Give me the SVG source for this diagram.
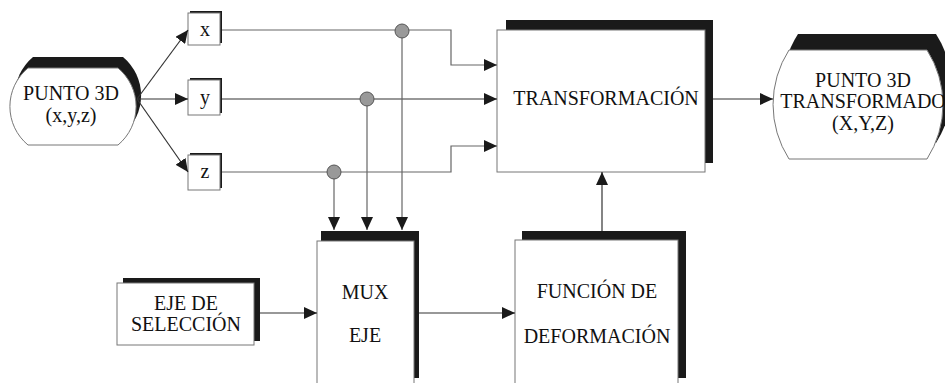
<svg xmlns="http://www.w3.org/2000/svg" width="945" height="383" viewBox="0 0 945 383">
<style>
.sh{fill:#1a1a1a;stroke:none}
.bx{fill:#fff;stroke:#777;stroke-width:1}
.t{font-family:"Liberation Serif","Times New Roman",serif;font-size:20px;fill:#111;text-anchor:middle}
.c{fill:none;stroke:#333;stroke-width:1.2}
.g{fill:none;stroke:#666;stroke-width:1.2}
.dot{fill:#999;stroke:#555;stroke-width:1}
</style>
<defs>
<marker id="ah" markerUnits="userSpaceOnUse" markerWidth="14" markerHeight="12" refX="13" refY="6" orient="auto">
<path d="M0,0 L13,6 L0,12 Z" fill="#1a1a1a"/>
</marker>
</defs>
<rect width="945" height="383" fill="#fff"/>

<g id="punto3d">
<path class="sh" transform="translate(5,-11)" d="M28,68 L118,68 A50,50 0 0 1 118,145 L28,145 A50,50 0 0 1 28,68 Z"/>
<path class="bx" d="M28,68 L118,68 A50,50 0 0 1 118,145 L28,145 A50,50 0 0 1 28,68 Z"/>
<text class="t" x="71" y="100">PUNTO 3D</text>
<text class="t" x="71" y="122">(x,y,z)</text>
</g>

<g id="box-x">
<rect class="sh" x="190" y="11" width="32" height="32"/>
<rect class="bx" x="188" y="13" width="32" height="32"/>
<text class="t" x="205" y="36">x</text>
</g>
<g id="box-y">
<rect class="sh" x="190" y="78" width="32" height="35"/>
<rect class="bx" x="188" y="80" width="32" height="35"/>
<text class="t" x="205" y="104">y</text>
</g>
<g id="box-z">
<rect class="sh" x="190" y="153" width="32" height="35"/>
<rect class="bx" x="188" y="155" width="32" height="35"/>
<text class="t" x="205" y="178">z</text>
</g>

<g id="transformacion">
<rect class="sh" x="506" y="20" width="207" height="143"/>
<rect class="bx" x="497" y="30" width="208" height="142"/>
<text class="t" x="606" y="105">TRANSFORMACIÓN</text>
</g>

<g id="punto3d-transformado">
<path class="sh" transform="translate(9,-16)" d="M789,50 L927,50 A101,101 0 0 1 927,159 L789,159 A101,101 0 0 1 789,50 Z"/>
<path class="bx" d="M789,50 L927,50 A101,101 0 0 1 927,159 L789,159 A101,101 0 0 1 789,50 Z"/>
<text class="t" x="863" y="87">PUNTO 3D</text>
<text class="t" x="863" y="108">TRANSFORMADO</text>
<text class="t" x="863" y="130">(X,Y,Z)</text>
</g>

<g id="eje-seleccion">
<rect class="sh" x="123" y="278" width="137" height="63"/>
<rect class="bx" x="117" y="283" width="137" height="62"/>
<text class="t" x="186" y="310">EJE DE</text>
<text class="t" x="186" y="331">SELECCIÓN</text>
</g>

<g id="mux-eje">
<rect class="sh" x="321" y="231" width="98" height="147"/>
<rect class="bx" x="317" y="241" width="97" height="160"/>
<text class="t" x="365" y="299">MUX</text>
<text class="t" x="365" y="342">EJE</text>
</g>

<g id="funcion-deformacion">
<rect class="sh" x="522" y="231" width="164" height="147"/>
<rect class="bx" x="515" y="240" width="163" height="160"/>
<text class="t" x="597" y="298">FUNCIÓN DE</text>
<text class="t" x="597" y="343">DEFORMACIÓN</text>
</g>

<g id="connectors">
<line class="c" x1="137" y1="99" x2="188" y2="30" marker-end="url(#ah)"/>
<line class="c" x1="137" y1="99" x2="188" y2="99" marker-end="url(#ah)"/>
<line class="c" x1="137" y1="99" x2="188" y2="172" marker-end="url(#ah)"/>
<polyline class="g" points="222,30 451,30 451,65 497,65" marker-end="url(#ah)"/>
<line class="c" x1="222" y1="99" x2="497" y2="99" marker-end="url(#ah)"/>
<polyline class="g" points="222,172 451,172 451,146 497,146" marker-end="url(#ah)"/>
<line class="g" x1="402" y1="30" x2="402" y2="230" marker-end="url(#ah)"/>
<line class="g" x1="367" y1="99" x2="367" y2="230" marker-end="url(#ah)"/>
<line class="g" x1="334" y1="172" x2="334" y2="230" marker-end="url(#ah)"/>
<circle class="dot" cx="402" cy="31" r="7"/>
<circle class="dot" cx="367" cy="99" r="7"/>
<circle class="dot" cx="334" cy="172" r="7"/>
<line class="c" x1="713" y1="99" x2="773" y2="99" marker-end="url(#ah)"/>
<line class="c" x1="602" y1="231" x2="602" y2="172" marker-end="url(#ah)"/>
<line class="c" x1="260" y1="313" x2="317" y2="313" marker-end="url(#ah)"/>
<line class="c" x1="419" y1="313" x2="515" y2="313" marker-end="url(#ah)"/>
</g>
</svg>
